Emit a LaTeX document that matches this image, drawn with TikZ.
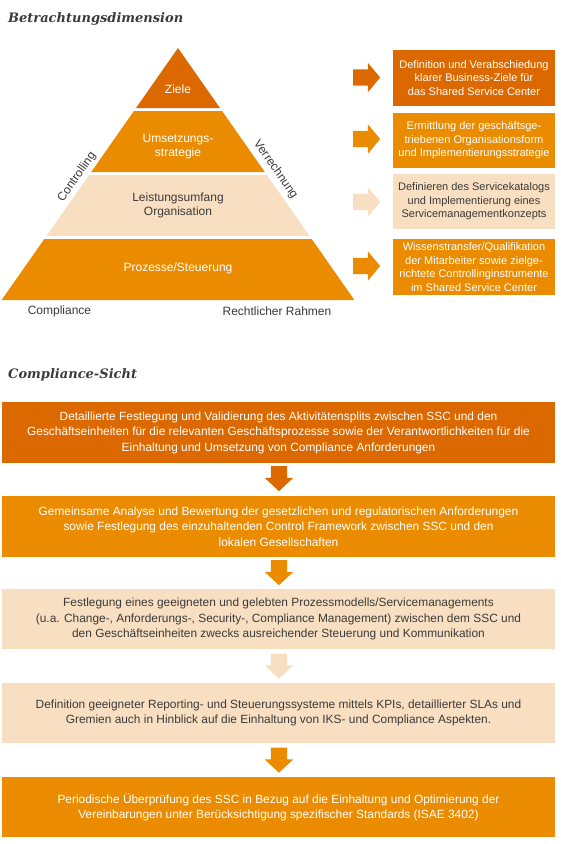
\documentclass[tikz,border=0pt]{standalone}
\usepackage{fontspec}
\setmainfont{Liberation Sans}
\newfontfamily\titlefont{DejaVu Serif}
\usetikzlibrary{shapes.arrows}
\definecolor{pdark}{HTML}{DC6900}
\definecolor{pmid}{HTML}{EB8C00}
\definecolor{plight}{HTML}{F9DFC1}
\definecolor{ptext}{HTML}{3A3A3A}
\begin{document}
\begin{tikzpicture}[x=1pt,y=-1pt,
  title/.style={anchor=base west, inner sep=0pt, text=ptext, font=\titlefont\bfseries\itshape\fontsize{13}{15}\selectfont},
  pyrtext/.style={align=center, inner sep=0pt, font=\fontsize{12}{14}\selectfont},
  sidebox/.style={align=center, inner sep=0pt, minimum width=162pt, font=\fontsize{11}{13.5}\selectfont},
  flowbox/.style={align=center, inner sep=0pt, minimum width=553pt, font=\fontsize{11.9}{15.5}\selectfont},
  rarrow/.style={single arrow, draw=none, anchor=tail, inner xsep=0pt, inner ysep=8pt, minimum height=27pt, single arrow head extend=6.5pt, single arrow tip angle=100},
  darrow/.style={single arrow, draw=none, anchor=tail, rotate=-90, inner xsep=0pt, inner ysep=8pt, minimum height=25pt, single arrow head extend=6pt, single arrow tip angle=94}
]
\useasboundingbox (0,0) rectangle (560,844);

% titles
\node[title] (t1) at (8,22.5) {Betrachtungsdimension};
\node[title] (t2) at (8,378) {Compliance-Sicht};

% pyramid layers
\fill[pdark]  (178,48) -- (220,108) -- (136,108) -- cycle;
\fill[pmid]   (133.9,111) -- (222.1,111) -- (264.8,172) -- (91.2,172) -- cycle;
\fill[plight] (89.1,175) -- (266.9,175) -- (309.6,236) -- (46.4,236) -- cycle;
\fill[pmid]   (44.3,239) -- (311.7,239) -- (354.4,300) -- (1.6,300) -- cycle;

\node[pyrtext, text=white] (ziele) at (178,89) {Ziele};
\node[pyrtext, text=white] (umsetz) at (178,147) {Umsetzungs-\\strategie};
\node[pyrtext, text=ptext] (leist) at (178,205) {Leistungsumfang\\Organisation};
\node[pyrtext, text=white] (proz) at (178,268.5) {Prozesse/Steuerung};

\node[pyrtext, text=ptext, rotate=55] (contr) at (77,177) {Controlling};
\node[pyrtext, text=ptext, rotate=-55] (verr) at (275.5,169.5) {Verrechnung};
\node[pyrtext, text=ptext] (compl) at (59.5,311) {Compliance};
\node[pyrtext, text=ptext] (recht) at (277,311) {Rechtlicher Rahmen};

% side arrows
\node[rarrow, fill=pdark]  (ra1) at (353,77.5) {};
\node[rarrow, fill=pmid]   (ra2) at (353,139) {};
\node[rarrow, fill=plight] (ra3) at (353,202) {};
\node[rarrow, fill=pmid]   (ra4) at (353,266) {};

% side boxes
\node[sidebox, fill=pdark, text=white, minimum height=56pt] (s1) at (474,78)
  {Definition und Verabschiedung\\klarer Business-Ziele für\\das Shared Service Center};
\node[sidebox, fill=pmid, text=white, minimum height=55pt] (s2) at (474,140.5)
  {Ermittlung der geschäftsge-\\triebenen Organisationsform\\und Implementierungsstrategie};
\node[sidebox, fill=plight, text=ptext, minimum height=55pt] (s3) at (474,201.5)
  {Definieren des Servicekatalogs\\und Implementierung eines\\Servicemanagementkonzepts};
\node[sidebox, fill=pmid, text=white, minimum height=56pt] (s4) at (474,267)
  {Wissenstransfer/Qualifikation\\der Mitarbeiter sowie zielge-\\richtete Controllinginstrumente\\im Shared Service Center};

% flow boxes
\node[flowbox, fill=pdark, text=white, minimum height=61pt] (fa) at (278.5,432.5)
  {Detaillierte Festlegung und Validierung des Aktivitätensplits zwischen SSC und den\\Geschäftseinheiten für die relevanten Geschäftsprozesse sowie der Verantwortlichkeiten für die\\Einhaltung und Umsetzung von Compliance Anforderungen};
\node[flowbox, fill=pmid, text=white, minimum height=61pt] (fb) at (278.5,526.5)
  {Gemeinsame Analyse und Bewertung der gesetzlichen und regulatorischen Anforderungen\\sowie Festlegung des einzuhaltenden Control Framework zwischen SSC und den\\lokalen Gesellschaften};
\node[flowbox, fill=plight, text=ptext, minimum height=60pt] (fc) at (278.5,619)
  {Festlegung eines geeigneten und gelebten Prozessmodells/Servicemanagements\\(u.a. Change-, Anforderungs-, Security-, Compliance Management) zwischen dem SSC und\\den Geschäftseinheiten zwecks ausreichender Steuerung und Kommunikation};
\node[flowbox, fill=plight, text=ptext, minimum height=60pt] (fd) at (278.5,713)
  {Definition geeigneter Reporting- und Steuerungssysteme mittels KPIs, detaillierter SLAs und\\Gremien auch in Hinblick auf die Einhaltung von IKS- und Compliance Aspekten.};
\node[flowbox, fill=pmid, text=white, minimum height=60pt] (fe) at (278.5,807)
  {Periodische Überprüfung des SSC in Bezug auf die Einhaltung und Optimierung der\\Vereinbarungen unter Berücksichtigung spezifischer Standards (ISAE 3402)};

% down arrows
\node[darrow, fill=pdark]  (da1) at (279,466) {};
\node[darrow, fill=pmid]   (da2) at (279,560) {};
\node[darrow, fill=plight] (da3) at (279,653.5) {};
\node[darrow, fill=pmid]   (da4) at (279,747.5) {};
\end{tikzpicture}
\end{document}
